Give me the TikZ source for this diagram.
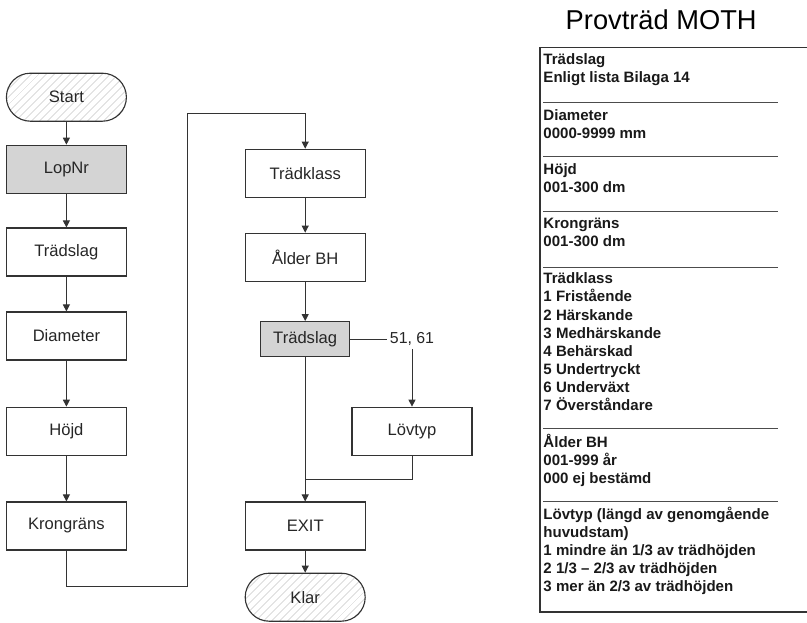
\documentclass[tikz,border=0pt]{standalone}
\usepackage{fontspec}
\setmainfont{Liberation Sans}
\usetikzlibrary{arrows.meta,patterns.meta}

\tikzset{
  box/.style={draw=black!80,line width=0.8pt,minimum width=3cm,minimum height=1.2cm,
    font=\fontsize{11.8}{14}\selectfont,text=black!85},
  greybox/.style={box,fill=black!17,minimum width=2.23cm,minimum height=0.88cm},
  term/.style={box,rounded corners=0.6cm,
    pattern={Lines[angle=45,distance=4pt,line width=0.3pt]},pattern color=black!30},
  flow/.style={->,line width=0.7pt,draw=black!80},
  link/.style={line width=0.7pt,draw=black!80},
  info/.style={anchor=base west,align=left,inner sep=0pt,
    font=\bfseries\fontsize{10.7}{12.9}\selectfont,text=black!90},
}

\begin{document}
\begin{tikzpicture}[>={Triangle[length=5pt,width=5pt]}]
  \useasboundingbox (0,0) rectangle (20.175,-15.55);

  % left column
  \node[term] (st) at (1.66,-2.43) {Start};
  \node[greybox,minimum width=3cm,minimum height=1.2cm] (lop) at (1.66,-4.23) {LopNr};
  \node[box] (ts) at (1.66,-6.3) {Trädslag};
  \node[box] (dia) at (1.66,-8.4) {Diameter};
  \node[box] (hoj) at (1.66,-10.78) {Höjd};
  \node[box] (kg) at (1.66,-13.15) {Krongräns};

  % right column
  \node[box] (tk) at (7.63,-4.33) {Trädklass};
  \node[box] (ald) at (7.63,-6.43) {Ålder BH};
  \node[greybox] (ts2) at (7.63,-8.48) {Trädslag};
  \node[inner sep=2pt,font=\fontsize{11.3}{13}\selectfont,text=black!85] (lbl) at (10.3,-8.48) {51, 61};
  \node[box] (lov) at (10.3,-10.78) {Lövtyp};
  \node[box] (ex) at (7.63,-13.15) {EXIT};
  \node[term] (kl) at (7.63,-14.93) {Klar};

  \coordinate (q1) at (4.68,-14.65);
  \coordinate (q2) at (4.68,-2.83);
  \coordinate (j) at (7.63,-11.98);

  \draw[flow] (st) -- (lop);
  \draw[flow] (lop) -- (ts);
  \draw[flow] (ts) -- (dia);
  \draw[flow] (dia) -- (hoj);
  \draw[flow] (hoj) -- (kg);
  \draw[flow] (kg) |- (q1) -- (q2) -| (tk);
  \draw[flow] (tk) -- (ald);
  \draw[flow] (ald) -- (ts2);
  \draw[link] (ts2) -- (lbl);
  \draw[flow] (lbl) -- (lov);
  \draw[flow] (ts2) -- (ex);
  \draw[link] (lov) |- (j);
  \draw[flow] (ex) -- (kl);

  % code list (nodes placed at the baseline of their last line)
  \node (ttl) at (16.53,-0.5) {\fontsize{19.4}{22}\selectfont Provträd MOTH};
  \draw[line width=1pt,black!80] (13.5,-1.18) rectangle (20.6,-15.3);
  \node[info] (i1) at (13.58,-2.06) {Trädslag\\Enligt lista Bilaga 14};
  \node[info] (i2) at (13.58,-3.46) {Diameter\\0000-9999 mm};
  \node[info] (i3) at (13.58,-4.81) {Höjd\\001-300 dm};
  \node[info] (i4) at (13.58,-6.16) {Krongräns\\001-300 dm};
  \node[info] (i5) at (13.58,-10.27) {Trädklass\\1 Fristående\\2 Härskande\\3 Medhärskande\\4 Behärskad\\5 Undertryckt\\6 Underväxt\\7 Överståndare};
  \node[info] (i6) at (13.58,-12.09) {Ålder BH\\001-999 år\\000 ej bestämd};
  \node[info] (i7) at (13.58,-14.79) {Lövtyp (längd av genomgående\\huvudstam)\\1 mindre än 1/3 av trädhöjden\\2 1/3 – 2/3 av trädhöjden\\3 mer än 2/3 av trädhöjden};
  \foreach \y in {2.55,3.9,5.28,6.68,10.7,12.53}
    \draw[black!70,line width=0.6pt] (13.58,-\y) -- (19.45,-\y);
\end{tikzpicture}
\end{document}
